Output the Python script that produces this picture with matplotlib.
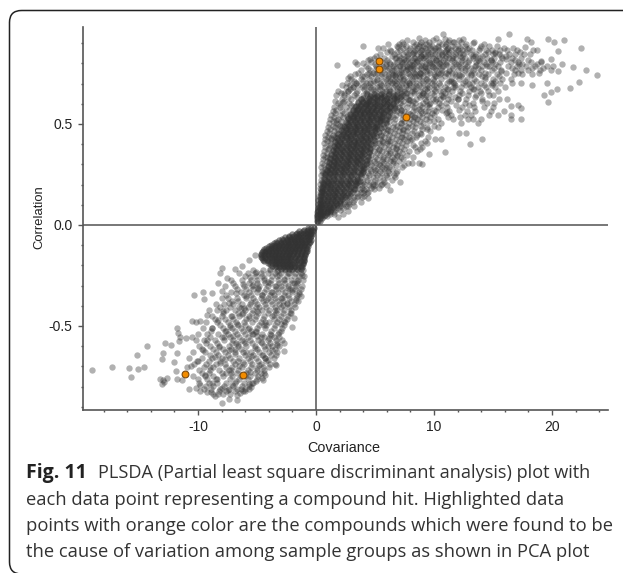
import matplotlib
matplotlib.use("Agg")
import matplotlib.pyplot as plt
from matplotlib.patches import FancyBboxPatch

# values: sparse points one by one, dense parts row by row
loose_x = [4.0, 1.75, 3.3, 3.95, 2.68, 5.25, 4.58, 6.33, 6.98, 7.34, 8.76, 9.24, 10.2, 10.73, 10.96, 11.6, 12.5,
           13.3, 15.4, 16.4, 17.85, 18.2, 17.7, 19.66, 20.2, 21.0, 22.5, 20.5, 18.7, 21.8, 22.9, 23.84, 22.3,
           21.55, 20.4, 19.66, 19.3, 19.9, 19.6, 20.85, 20.5, 19.9, 19.1, 18.3, 17.4, 17.4, 16.5, 17.1, 16.5,
           12.1, 12.7, 13.05, 14.04, 10.9, 9.6, 8.7, 9.0, 6.27, 7.1,
           -18.98, -17.3, -15.85, -15.1, -14.6, -15.65, -15.2, -14.3, -12.8, -12.3, -11.6, -13.0, -13.05,
           -11.75, -12.03, -13.2, -13.05, -12.9, -12.65, -12.95, -11.9, -11.75, -11.4, -10.95, -10.6, -11.75,
           -11.67, -11.5, -11.0, -10.5, -10.5, -10.2, -9.8, -10.3, -9.6, -9.46, -8.8, -9.07, -9.27, -7.94,
           -8.13, -8.33, -6.9, -7.57, -8.0, -6.3, -5.65, -5.17, -1.24, -1.86, -2.0, -2.68, -2.7, -3.47,
           -4.4, -4.46, -5.68, -6.72, -7.37, -8.0, -8.6, -6.44, -9.2, -10.8, -10.2]
loose_y = [.888, .794, .805, .8, .729, .875, .822, .863, .883, .896, .926, .916, .927, .947, .919, .908, .919,
           .899, .919, .944, .919, .904, .883, .922, .908, .916, .878, .863, .866, .784, .766, .741, .71,
           .68, .675, .607, .644, .66, .705, .799, .761, .822, .813, .693, .581, .526, .523, .594, .59,
           .457, .457, .399, .427, .363, .351, .307, .302, .173, .215,
           -.718, -.701, -.71, -.715, -.705, -.754, -.645, -.597, -.584, -.596, -.573, -.632, -.665,
           -.635, -.677, -.764, -.789, -.776, -.759, -.767, -.721, -.761, -.767, -.701, -.698, -.511,
           -.536, -.556, -.561, -.556, -.474, -.482, -.477, -.345, -.332, -.368, -.335, -.42, -.446, -.211,
           -.239, -.289, -.219, -.264, -.325, -.203, -.173, -.149, -.353, -.459, -.503, -.586, -.622, -.69,
           -.734, -.767, -.812, -.868, -.863, -.88, -.847, -.832, -.828, -.814, -.808]

ridge_x = [4.7, 5.3, 5.9, 6.4, 6.1, 6.9, 7.4, 6.7, 7.2, 7.9, 8.3, 7.7, 8.1, 8.8, 9.2, 8.6, 9.1, 9.7, 10.2, 9.5,
           10.1, 10.7, 11.1, 9.0, 8.2, 7.5, 7.0, 6.4, 5.8, 5.2, 4.6, 4.1, 5.6, 6.6, 7.1, 7.6, 8.2, 8.7, 9.3, 9.9,
           10.4, 11.0, 11.5, 12.2, 12.8, 13.3, 11.9, 10.9, 10.3, 9.6, 8.9, 8.4, 7.8, 7.3, 6.8, 6.3, 5.7, 5.1,
           4.5, 3.9, 3.4, 2.9, 2.4, 6.2, 7.6, 8.5, 9.4, 10.6, 11.4, 12.6, 13.8, 14.5, 15.2, 13.1, 12.1, 11.2,
           10.0, 9.0, 8.0, 7.1, 6.0, 5.0, 4.2, 3.2, 6.5, 7.7, 8.9, 10.1, 11.3, 12.4, 13.6, 14.8, 16.1, 17.2,
           15.7, 14.3, 13.0, 11.8, 10.5, 9.4, 8.3, 7.2, 5.5, 4.4, 3.6, 2.6, 1.9, 1.5, 2.2, 3.0, 3.8, 6.7, 7.9,
           9.1, 10.2, 11.6, 5.9, 6.5, 7.2, 8.0, 8.7, 9.6, 10.8, 12.0, 13.4, 15.0, 4.9, 5.4, 5.0, 5.5, 6.1, 6.8,
           7.4, 6.3, 5.7, 6.9, 7.6, 8.4, 9.2, 4.6, 5.3, 5.9, 6.5, 7.3, 8.0, 8.9, 10.0, 11.1, .55, .72, .9, 1.1,
           1.3, 1.45, 1.7, 2.0, 2.3, 2.7, 3.1, 4.6, 5.0, 5.3, 5.7, 6.1, 5.5, 6.4, 6.8, 7.3, 4.4, 4.8, 3.8, 4.1,
           3.2, 2.7, 2.3, 1.9]
ridge_y = [.672, .688, .661, .703, .728, .679, .716, .742, .758, .701, .737, .771, .793, .752, .783, .812, .829,
           .801, .818, .846, .861, .839, .873, .868, .851, .822, .789, .768, .751, .719, .702, .688, .632, .713,
           .733, .694, .776, .738, .764, .782, .803, .792, .827, .851, .873, .834, .796, .855, .882, .891, .837,
           .827, .848, .806, .826, .798, .781, .773, .751, .739, .702, .694, .651, .664, .652, .687, .721, .752,
           .711, .776, .812, .789, .851, .742, .742, .672, .693, .641, .618, .633, .601, .631, .598, .589, .742,
           .784, .791, .738, .762, .833, .792, .818, .824, .797, .762, .731, .698, .684, .662, .679, .662, .571,
           .587, .557, .573, .541, .498, .436, .489, .538, .622, .591, .618, .653, .624, .709, .509, .534, .507,
           .548, .572, .601, .637, .622, .671, .703, .482, .528, .407, .441, .418, .383, .471, .356, .329, .341,
           .491, .536, .562, .371, .301, .282, .319, .437, .421, .452, .513, .561, .171, .261, .334, .382, .431,
           .491, .522, .583, .611, .661, .683, .312, .271, .371, .412, .471, .521, .562, .623, .661, .132, .193,
           .112, .171, .093, .071, .056, .038]

low_scatter_x = [-5.1, -4.4, -3.9, -3.1, -2.3, -1.6, -6.2, -5.6, -4.9, -4.1, -3.4, -2.7, -2.0, -1.4, -6.8, -5.9,
                 -5.3, -4.6, -3.7, -3.0, -2.5, -1.7, -7.4, -6.4, -5.5, -4.8, -4.2, -3.5, -2.8, -2.1, -7.9, -7.1,
                 -6.3, -5.7, -5.0, -4.3, -3.6, -3.0, -8.3, -7.3, -6.7, -5.8, -5.1, -4.4, -3.8, -3.1, -8.8, -7.8,
                 -7.0, -6.1, -5.4, -4.7, -4.0, -3.3, -9.2, -8.2, -7.4, -6.6, -5.9, -5.2, -4.5, -3.7, -9.6, -8.6,
                 -7.7, -6.9, -6.2, -5.5, -4.8, -4.1, -10.1, -9.0, -8.1, -7.2, -6.5, -5.6, -5.0, -4.3, -9.4, -8.4,
                 -7.6, -6.8, -6.0, -5.3, -4.6, -9.8, -8.8, -8.0, -7.1, -6.4, -5.7, -5.1, -8.9, -8.3, -7.5, -6.7,
                 -6.0, -5.5, -3.3, -2.4, -1.9, -1.2, -5.0, -4.1, -2.7, -6.1, -7.6, -6.9, -4.3, -3.4]
low_scatter_y = [-.231, -.262, -.218, -.247, -.238, -.277, -.292, -.258, -.314, -.283, -.301, -.267, -.322, -.341,
                 -.338, -.353, -.296, -.347, -.332, -.361, -.388, -.373, -.384, -.412, -.379, -.408, -.369, -.421,
                 -.394, -.438, -.427, -.451, -.441, -.463, -.427, -.478, -.446, -.492, -.471, -.503, -.488, -.517,
                 -.529, -.497, -.543, -.531, -.512, -.556, -.548, -.572, -.538, -.581, -.562, -.594, -.567, -.603,
                 -.618, -.587, -.631, -.608, -.642, -.621, -.619, -.652, -.664, -.638, -.677, -.651, -.693, -.668,
                 -.671, -.704, -.681, -.717, -.696, -.728, -.709, -.741, -.741, -.762, -.733, -.771, -.748, -.782,
                 -.756, -.793, -.784, -.806, -.792, -.812, -.787, -.771, -.826, -.838, -.817, -.844, -.823, -.801,
                 -.228, -.311, -.289, -.248, -.551, -.601, -.477, -.412, -.523, -.612, -.659, -.694]

upper_levels = [.905, .885, .865, .845, .825, .805, .785, .765, .745, .725, .705, .685, .665, .645, .625, .605,
                .585, .565, .545, .525, .505, .485, .465, .445, .425, .405, .385, .365, .345, .325, .305, .285,
                .265, .245, .225, .205, .185, .165, .145, .125, .105, .085, .065, .045]
upper_rows = [
    [7.3, 8.2, 8.9, 9.6, 10.4, 11.2, 11.7, 12.3, 13.4],
    [6.9, 7.6, 8.3, 8.7, 9.1, 9.8, 10.3, 10.9, 11.5, 12.0, 12.6, 14.0, 14.7, 15.3],
    [6.3, 7.1, 7.9, 8.4, 8.9, 9.4, 9.9, 10.4, 11.0, 11.4, 12.0, 12.4, 13.2, 13.8, 14.4, 14.9, 15.6, 16.2, 17.0, 18.4],
    [5.4, 6.6, 7.4, 8.1, 8.6, 9.1, 9.7, 10.1, 10.7, 11.2, 11.8, 12.5, 13.1, 13.6, 14.3, 15.0, 15.5, 16.4, 16.9, 17.6, 18.1],
    [4.9, 5.8, 6.7, 7.2, 7.8, 8.3, 8.8, 9.3, 9.9, 10.4, 10.9, 11.3, 11.9, 12.6, 13.3, 13.9, 14.5, 15.1, 15.8, 16.6, 17.4],
    [4.7, 5.6, 6.2, 6.9, 7.5, 8.0, 8.5, 9.0, 9.6, 10.0, 10.6, 11.1, 11.7, 12.3, 12.9, 13.6, 14.2, 14.9, 15.6, 16.5, 17.1, 18.2, 19.1],
    [4.2, 5.1, 5.9, 6.5, 7.1, 7.7, 8.2, 8.7, 9.2, 9.8, 10.3, 10.8, 11.5, 12.1, 12.8, 13.5, 14.1, 14.7, 15.4, 16.3, 17.0, 17.8, 18.6, 19.6, 20.1],
    [3.8, 4.6, 5.4, 6.0, 6.6, 7.2, 7.6, 8.1, 8.6, 9.1, 9.6, 10.2, 10.7, 11.3, 12.0, 12.6, 13.3, 14.0, 14.9, 15.7, 16.9, 17.4, 18.0, 19.0, 19.9],
    [3.3, 4.3, 5.0, 5.6, 6.2, 6.8, 7.3, 7.9, 8.4, 8.9, 9.4, 10.0, 10.5, 11.2, 11.8, 12.4, 13.1, 13.8, 14.6, 15.3, 16.8, 17.5, 18.3],
    [3.0, 3.8, 4.5, 5.2, 5.9, 6.4, 7.0, 7.5, 8.1, 8.7, 9.3, 9.9, 10.6, 11.4, 12.1, 12.8, 13.4, 14.3, 15.0, 15.8, 16.5],
    [2.6, 3.4, 4.2, 4.8, 5.4, 6.1, 6.8, 7.3, 7.9, 8.5, 9.1, 9.8, 10.4, 11.1, 11.7, 12.5, 13.2, 14.0, 14.8, 15.6, 16.6, 17.4],
    [2.5, 3.1, 3.9, 4.6, 5.2, 5.8, 6.5, 7.0, 7.6, 8.2, 8.9, 9.6, 10.2, 10.9, 11.6, 12.3, 13.1, 13.7, 14.4, 15.2, 16.0],
    [1.9, 2.7, 3.5, 4.3, 5.0, 5.6, 6.3, 6.9, 7.5, 8.1, 8.8, 9.4, 10.1, 10.8, 11.5, 12.2, 13.0, 13.9, 14.6, 15.4],
    [1.7, 2.4, 3.2, 4.0, 4.7, 5.4, 6.1, 6.7, 7.4, 8.0, 8.7, 9.3, 10.0, 10.6, 11.3, 12.1, 12.9, 13.6, 14.7, 15.0],
    [2.2, 3.0, 3.8, 4.5, 5.2, 5.9, 6.6, 7.2, 7.8, 8.5, 9.2, 9.9, 10.5, 11.2, 12.0, 12.7, 14.1, 15.5, 16.2],
    [1.9, 2.8, 3.6, 4.3, 5.0, 5.8, 6.5, 7.1, 7.8, 8.4, 9.1, 9.7, 10.4, 11.0, 12.6, 13.3, 14.5, 15.1],
    [1.5, 2.5, 3.3, 4.1, 4.8, 5.6, 6.3, 7.0, 7.7, 8.3, 9.0, 9.6, 10.3, 11.1, 12.4, 13.4, 14.2, 15.0],
    [1.4, 2.2, 3.1, 3.9, 4.7, 5.5, 6.2, 6.9, 7.5, 8.2, 8.9, 9.5, 10.2, 11.3, 12.8, 13.5, 14.8, 15.9],
    [1.3, 2.0, 2.9, 3.7, 4.5, 5.3, 6.1, 6.8, 7.4, 8.1, 8.7, 9.4, 10.0, 11.4, 12.6, 13.1, 14.7, 15.4, 16.5],
    [1.2, 1.9, 2.7, 3.5, 4.4, 5.2, 6.0, 6.7, 7.3, 8.0, 8.6, 9.3, 10.3, 11.6, 12.9, 13.3, 14.0],
    [1.1, 1.7, 2.6, 3.4, 4.2, 5.1, 5.9, 6.6, 7.2, 7.9, 8.5, 9.1, 10.6, 12.3, 13.7],
    [1.0, 1.6, 2.4, 3.3, 4.1, 5.0, 5.8, 6.5, 7.1, 7.8, 8.4, 9.4, 10.3],
    [.9, 1.5, 2.3, 3.1, 4.0, 4.9, 5.7, 6.3, 7.0, 7.7, 8.3, 9.7],
    [.8, 1.4, 2.2, 3.0, 3.9, 4.8, 5.5, 6.2, 6.9, 7.6, 8.6],
    [.75, 1.3, 2.1, 2.9, 3.8, 4.6, 5.4, 6.1, 6.8, 7.5, 8.1, 10.1, 10.6],
    [.7, 1.2, 2.0, 2.8, 3.6, 4.5, 5.3, 6.0, 6.6, 7.3, 8.9, 9.4],
    [.8, 1.6, 2.5, 3.4, 4.3, 5.1, 5.8, 6.5, 7.2, 8.4, 9.0],
    [.7, 1.4, 2.3, 3.2, 4.1, 4.9, 5.6, 6.3, 7.0, 7.9, 8.6],
    [.6, 1.3, 2.2, 3.0, 3.9, 4.7, 5.4, 6.1, 6.9, 7.7],
    [.6, 1.2, 2.0, 2.9, 3.7, 4.5, 5.2, 6.0, 6.6, 7.4],
    [.5, 1.1, 1.9, 2.7, 3.6, 4.3, 5.1, 5.8, 6.5, 7.8, 8.1],
    [.45, 1.0, 1.7, 2.5, 3.4, 4.2, 4.9, 5.6, 6.2, 7.3],
    [.5, .9, 1.6, 2.4, 3.2, 4.0, 4.7, 5.4, 6.1, 6.9],
    [.4, .8, 1.5, 2.2, 3.0, 3.8, 4.5, 5.2, 5.9, 6.6],
    [.4, .75, 1.4, 2.1, 2.9, 3.6, 4.3, 5.0, 5.7, 6.4],
    [.35, .7, 1.3, 2.0, 2.7, 3.4, 4.1, 4.8, 5.6],
    [.3, .6, 1.2, 1.8, 2.5, 3.2, 3.9, 4.7, 5.3],
    [.3, .55, 1.1, 1.7, 2.4, 3.1, 3.8, 4.4],
    [.25, .5, 1.0, 1.6, 2.2, 2.9, 3.6, 4.1],
    [.2, .45, .9, 1.4, 2.0, 2.6, 3.2],
    [.2, .4, .8, 1.3, 1.8, 2.3, 2.8],
    [.15, .35, .7, 1.1, 1.5, 1.9, 2.3],
    [.1, .3, .6, .9, 1.2, 1.5],
    [.1, .25, .45, .7, .9],
]

upper2_levels = [.918, .896, .876, .858, .838, .817, .797, .776, .754, .735, .714, .693, .672, .652, .631, .612,
                 .593, .571, .552, .532, .513, .492, .474, .455, .436, .416, .396, .377, .356, .337, .316, .296,
                 .276, .256, .236, .214, .196, .176, .156, .136, .116, .096, .076, .056]
upper2_rows = [
    [7.7, 9.9, 11.3, 12.1],
    [6.1, 7.0, 8.5, 8.8, 9.3, 10.7, 11.0, 12.7, 14.2],
    [5.7, 7.4, 8.0, 8.6, 9.2, 9.7, 10.1, 11.2, 11.8, 12.2, 13.0, 13.9, 15.9, 16.7],
    [6.0, 6.9, 7.6, 8.3, 8.8, 9.5, 10.6, 11.3, 11.9, 12.7, 14.6, 15.2, 17.3],
    [5.1, 6.4, 7.0, 7.7, 8.9, 9.2, 9.8, 10.3, 11.0, 11.6, 12.2, 13.5, 14.1, 15.7, 16.1],
    [4.4, 5.3, 6.0, 7.0, 7.6, 8.1, 8.6, 9.5, 10.2, 10.8, 11.5, 12.4, 13.0, 13.7, 14.8, 16.9, 18.0],
    [3.5, 5.0, 5.9, 6.6, 7.3, 7.9, 8.3, 9.3, 9.8, 10.5, 11.0, 12.0, 12.6, 14.4, 15.2, 17.5, 18.7],
    [4.4, 5.5, 6.2, 6.8, 7.4, 8.0, 8.9, 9.4, 10.1, 10.6, 11.6, 12.3, 13.1, 13.7, 15.1, 16.6, 18.3, 19.2],
    [3.6, 4.8, 5.2, 6.4, 7.0, 7.8, 8.3, 8.8, 9.7, 10.3, 11.0, 11.5, 12.9, 13.4, 14.3, 16.1, 17.1, 18.9],
    [2.9, 4.1, 4.7, 5.5, 6.1, 6.7, 7.4, 8.0, 8.5, 9.1, 10.2, 10.9, 11.9, 12.3, 14.1, 15.5],
    [3.2, 4.0, 4.9, 5.7, 6.3, 6.9, 7.7, 8.2, 9.0, 9.5, 10.0, 11.3, 12.6, 13.6, 15.2],
    [2.2, 3.6, 4.4, 5.5, 6.0, 6.7, 7.2, 8.0, 8.7, 9.4, 10.5, 11.8, 12.7, 14.2, 14.9],
    [2.9, 4.1, 4.8, 5.4, 6.2, 7.1, 7.8, 8.4, 9.2, 10.0, 11.1, 13.3],
    [2.1, 3.4, 4.2, 5.1, 5.8, 6.5, 7.2, 7.7, 8.3, 9.1, 9.8, 10.9, 12.4, 14.0],
    [2.7, 3.5, 4.8, 5.5, 6.2, 6.9, 7.6, 8.8, 9.5, 10.8, 11.8, 13.5],
    [1.6, 2.4, 3.9, 4.6, 5.4, 6.0, 6.8, 7.4, 8.2, 9.3, 10.1, 11.4, 14.1],
    [2.0, 3.0, 3.7, 4.4, 5.2, 6.6, 7.3, 8.1, 8.8, 9.4, 10.6, 11.9, 13.0],
    [1.7, 2.8, 3.5, 4.3, 5.1, 5.9, 6.6, 7.2, 8.5, 10.0, 10.7, 12.1],
    [1.6, 2.4, 3.4, 4.1, 4.9, 5.7, 7.1, 7.8, 9.0, 9.8, 11.0],
    [1.5, 2.3, 3.2, 4.0, 4.8, 5.6, 6.3, 7.6, 8.3, 9.0, 9.7, 11.2, 12.2],
    [1.4, 2.1, 3.0, 3.8, 4.6, 5.4, 6.2, 7.5, 8.2, 8.8, 9.6],
    [2.0, 2.8, 3.6, 4.5, 5.3, 6.1, 6.9, 8.1, 8.9, 10.0],
    [1.2, 1.9, 2.7, 3.5, 4.3, 5.2, 6.0, 6.7, 7.4, 9.0, 9.4],
    [1.1, 1.8, 2.6, 3.4, 4.4, 5.1, 5.9, 6.6, 7.3, 8.1, 8.8],
    [1.0, 1.7, 2.5, 4.2, 4.9, 5.8, 6.4, 7.2, 7.9, 8.5, 9.5],
    [.9, 1.6, 3.3, 4.1, 5.0, 5.6, 6.3, 7.0, 7.7, 9.2],
    [1.2, 1.9, 3.1, 4.0, 4.8, 5.5, 6.2, 6.9, 7.6, 8.2],
    [1.0, 2.0, 3.0, 3.8, 4.6, 5.3, 6.1, 6.8, 7.5, 8.8],
    [.9, 1.7, 2.8, 3.7, 4.5, 5.2, 5.9, 6.7, 7.3],
    [.8, 1.6, 2.7, 3.5, 4.4, 5.0, 5.7, 6.4, 7.2, 8.2],
    [.9, 1.5, 2.5, 3.4, 4.2, 4.9, 5.6, 6.3, 7.0],
    [.7, 1.4, 2.3, 4.1, 4.7, 5.4, 6.0, 6.8, 7.5],
    [.8, 1.3, 2.1, 4.0, 4.6, 5.2, 5.8, 6.4],
    [.6, 1.2, 3.9, 4.4, 5.0, 5.6, 6.2, 6.8],
    [.7, 1.1, 3.8, 4.2, 4.8, 5.4, 6.0, 6.7],
    [.5, 1.0, 3.6, 4.0, 4.6, 5.2, 5.8],
    [.6, .9, 3.5, 3.9, 4.5, 5.0, 5.5, 6.0],
    [.45, 3.3, 3.7, 4.2, 4.9],
    [.4, 3.0, 3.5, 4.0, 4.3],
    [.35, 2.7, 3.1, 3.5, 3.9],
    [.3, 2.4, 2.8, 3.1],
    [.25, 2.0, 2.5, 2.7],
    [.2, 1.6, 2.0],
    [.15, 1.2, 1.5],
]

upper_core_levels = [.02, .035, .05, .07, .09, .11, .13, .15, .17, .19, .21, .23, .25, .27, .29, .31, .33, .35,
                     .37, .39, .41, .43, .45, .47, .49, .51, .53, .55, .57, .59, .61, .63, .65]
upper_core_rows = [
    [.05, .2, .35], [.1, .3, .5], [.1, .3, .55, .8], [.2, .45, .7, 1.0, 1.2], [.25, .55, .85, 1.15, 1.45],
    [.3, .6, .95, 1.3, 1.7, 2.0], [.35, .7, 1.05, 1.4, 1.8, 2.2], [.45, .8, 1.15, 1.5, 1.9, 2.3, 2.6],
    [.5, .85, 1.25, 1.6, 2.0, 2.4, 2.9], [.55, .95, 1.3, 1.7, 2.1, 2.5, 3.0],
    [.6, 1.0, 1.4, 1.8, 2.2, 2.6, 3.0, 3.4], [.7, 1.1, 1.5, 1.9, 2.3, 2.7, 3.1, 3.5],
    [.8, 1.2, 1.6, 2.0, 2.4, 2.8, 3.2, 3.7], [.9, 1.3, 1.7, 2.1, 2.5, 2.9, 3.3, 3.8],
    [1.0, 1.4, 1.8, 2.2, 2.6, 3.0, 3.4, 3.9], [1.1, 1.5, 1.9, 2.3, 2.7, 3.1, 3.5, 3.9],
    [1.2, 1.6, 2.0, 2.4, 2.8, 3.2, 3.6, 4.0], [1.3, 1.7, 2.1, 2.5, 2.9, 3.3, 3.7, 4.1],
    [1.4, 1.8, 2.2, 2.6, 3.0, 3.4, 3.8, 4.2], [1.5, 1.9, 2.3, 2.7, 3.1, 3.5, 3.9, 4.3],
    [1.6, 2.0, 2.4, 2.8, 3.2, 3.6, 4.0, 4.4], [1.8, 2.2, 2.6, 3.0, 3.4, 3.8, 4.2, 4.6],
    [1.9, 2.3, 2.7, 3.1, 3.5, 3.9, 4.3, 4.8], [2.1, 2.5, 2.9, 3.3, 3.7, 4.1, 4.5, 5.0],
    [2.4, 2.8, 3.2, 3.6, 4.0, 4.4, 4.8, 5.2], [2.5, 2.9, 3.3, 3.7, 4.1, 4.5, 4.9, 5.4],
    [2.7, 3.1, 3.5, 3.9, 4.3, 4.7, 5.1, 5.6], [2.9, 3.3, 3.7, 4.1, 4.5, 4.9, 5.3, 5.8],
    [3.1, 3.5, 3.9, 4.3, 4.7, 5.1, 5.5, 6.0], [3.4, 3.8, 4.2, 4.6, 5.0, 5.4, 5.9, 6.3],
    [3.6, 4.0, 4.4, 4.8, 5.2, 5.7, 6.2], [4.0, 4.5, 5.0, 5.5, 6.0, 6.6], [4.3, 4.9, 5.5, 6.2, 6.9],
]

upper_core2_levels = [.06, .08, .10, .12, .14, .16, .18, .20, .22, .24, .26, .28, .30, .32, .34, .36, .38, .40,
                      .42, .44, .46, .48, .50, .52, .54, .56, .58, .60, .62, .64]
upper_core2_rows = [
    [.3, .6, .95], [.35, .65, 1.0, 1.3], [.45, .75, 1.1, 1.5, 1.8], [.5, .9, 1.25, 1.6, 2.0],
    [.6, 1.0, 1.35, 1.7, 2.1, 2.45], [.65, 1.05, 1.4, 1.8, 2.2, 2.7], [.75, 1.15, 1.5, 1.9, 2.3, 2.8, 3.2],
    [.8, 1.2, 1.6, 2.0, 2.4, 2.8, 3.3], [.9, 1.3, 1.7, 2.1, 2.5, 2.9, 3.3, 3.7], [1.0, 1.4, 1.8, 2.2, 2.6, 3.0, 3.5],
    [1.1, 1.5, 1.9, 2.3, 2.7, 3.1, 3.6, 4.0], [1.2, 1.6, 2.0, 2.4, 2.8, 3.2, 3.7, 4.1],
    [1.3, 1.7, 2.1, 2.5, 2.9, 3.3, 3.7, 4.2], [1.4, 1.8, 2.2, 2.6, 3.0, 3.4, 3.8, 4.3],
    [1.5, 1.9, 2.3, 2.7, 3.1, 3.5, 3.9, 4.4], [1.6, 2.0, 2.4, 2.8, 3.2, 3.6, 4.0, 4.5],
    [1.7, 2.1, 2.5, 2.9, 3.3, 3.7, 4.1, 4.6], [1.8, 2.2, 2.6, 3.0, 3.4, 3.8, 4.2, 4.7],
    [1.9, 2.4, 2.8, 3.2, 3.6, 4.0, 4.4, 4.9], [2.1, 2.5, 2.9, 3.3, 3.7, 4.1, 4.6, 5.1],
    [2.3, 2.7, 3.1, 3.5, 3.9, 4.3, 4.7, 5.3], [2.5, 2.9, 3.3, 3.7, 4.1, 4.5, 5.0, 5.5],
    [2.7, 3.1, 3.5, 3.9, 4.3, 4.7, 5.2, 5.7], [2.9, 3.3, 3.7, 4.1, 4.5, 4.9, 5.4, 5.9],
    [3.1, 3.5, 3.9, 4.3, 4.7, 5.1, 5.6, 6.1], [3.3, 3.7, 4.1, 4.5, 4.9, 5.3, 5.8, 6.3],
    [3.6, 4.0, 4.4, 4.8, 5.2, 5.7, 6.2, 6.7], [3.8, 4.2, 4.6, 5.0, 5.5, 6.0, 6.5],
    [4.2, 4.7, 5.2, 5.8, 6.3, 6.9], [4.6, 5.2, 5.8, 6.5, 7.2],
]

lower_levels = [-.24, -.27, -.30, -.33, -.36, -.39, -.42, -.45, -.48, -.51, -.54, -.57, -.60, -.63, -.66, -.69,
                -.72, -.75, -.78, -.81, -.835]
lower_rows = [
    [-6.5, -5.8, -5.2, -4.7, -4.1, -3.5, -3.0, -2.4, -1.8, -1.3],
    [-7.2, -6.3, -5.5, -5.0, -4.4, -3.8, -3.2, -2.7, -2.1, -1.5, -1.1],
    [-7.7, -6.9, -6.1, -5.4, -4.8, -4.1, -3.5, -3.0, -2.4, -1.7, -1.2],
    [-7.2, -6.4, -5.7, -5.0, -4.4, -3.8, -3.2, -2.6, -2.0, -1.4],
    [-8.0, -7.5, -6.7, -5.9, -5.3, -4.7, -4.1, -3.5, -2.9, -2.3, -1.7],
    [-8.5, -7.8, -7.0, -6.3, -5.6, -5.0, -4.3, -3.7, -3.1, -2.5, -1.9],
    [-8.4, -7.6, -6.9, -6.0, -5.3, -4.6, -4.0, -3.3, -2.7, -2.1],
    [-8.8, -8.0, -7.2, -6.5, -5.7, -5.1, -4.4, -3.7, -3.0, -2.4],
    [-9.3, -8.4, -7.5, -6.8, -6.1, -5.4, -4.7, -4.0, -3.3, -2.6],
    [-9.6, -8.8, -7.9, -7.1, -6.4, -5.7, -5.0, -4.3, -3.6, -2.9],
    [-10.0, -9.2, -8.3, -7.5, -6.7, -6.0, -5.3, -4.6, -3.9, -3.2],
    [-10.2, -9.5, -8.6, -7.8, -7.0, -6.3, -5.6, -4.9, -4.1, -3.4, -2.9],
    [-9.9, -9.0, -8.2, -7.4, -6.6, -5.9, -5.2, -4.4, -3.7, -3.1],
    [-10.4, -9.4, -8.5, -7.7, -6.9, -6.2, -5.5, -4.8, -4.0, -3.3],
    [-10.8, -9.7, -8.8, -8.0, -7.3, -6.5, -5.8, -5.1, -4.3, -3.6],
    [-10.3, -9.3, -8.5, -7.7, -6.9, -6.1, -5.4, -4.7, -3.9],
    [-9.9, -9.0, -8.2, -7.4, -6.6, -5.8, -5.0, -4.4],
    [-10.4, -9.4, -8.7, -7.9, -7.1, -6.4, -5.6, -4.9],
    [-9.9, -9.1, -8.4, -7.6, -6.9, -6.1, -5.4],
    [-9.5, -8.9, -8.1, -7.4, -6.7, -6.0],
    [-8.7, -7.9, -7.3],
]

lower2_levels = [-.225, -.255, -.285, -.315, -.345, -.375, -.405, -.435, -.465, -.495, -.525, -.555, -.585, -.615,
                 -.645, -.675, -.705, -.735, -.765, -.795, -.82]
lower2_rows = [
    [-5.3, -4.5, -3.9, -3.2, -2.6, -2.0, -1.5, -1.1],
    [-6.0, -5.1, -4.6, -3.7, -3.3, -2.5, -1.9, -1.4, -1.0],
    [-7.0, -5.7, -5.0, -4.3, -3.9, -3.1, -2.6, -2.0, -1.6],
    [-6.7, -5.9, -5.3, -4.9, -4.2, -3.4, -2.9, -2.2, -1.8, -1.3],
    [-7.6, -6.1, -5.5, -4.6, -3.9, -3.6, -2.7, -2.4, -1.6],
    [-7.1, -6.6, -5.2, -4.5, -3.8, -3.3, -2.8, -2.1, -1.5],
    [-8.1, -7.3, -6.5, -5.8, -5.1, -4.2, -3.5, -3.0, -2.3, -1.8],
    [-7.9, -6.6, -6.2, -5.4, -4.9, -4.1, -3.4, -2.8, -2.2],
    [-8.6, -7.7, -7.0, -5.9, -5.2, -4.5, -3.6, -3.1, -2.5],
    [-8.1, -7.3, -6.6, -6.0, -4.8, -4.2, -3.5, -2.7],
    [-8.9, -7.7, -6.9, -6.2, -5.5, -5.1, -3.8, -3.0],
    [-9.0, -8.0, -7.3, -6.5, -5.8, -4.7, -4.4, -3.6, -3.1],
    [-9.3, -8.4, -7.1, -6.8, -6.0, -5.4, -4.6, -3.9, -3.3],
    [-9.7, -8.7, -7.9, -7.2, -6.4, -5.0, -4.3, -3.5],
    [-9.0, -8.3, -7.5, -6.0, -5.3, -4.6, -3.8, -3.4],
    [-10.0, -9.1, -8.1, -7.0, -6.6, -5.6, -4.9, -4.2],
    [-9.5, -8.7, -7.6, -7.1, -6.3, -5.5, -4.5, -4.0],
    [-9.7, -9.1, -8.0, -7.2, -6.7, -5.9, -5.2, -4.7],
    [-10.0, -9.2, -8.5, -7.3, -6.5, -5.8, -5.0],
    [-9.3, -8.7, -7.8, -7.0, -6.3, -5.7],
    [-9.8, -8.2, -7.6, -6.9, -6.2],
]

lower_core_levels = [-.015, -.03, -.045, -.06, -.075, -.09, -.105, -.12, -.135, -.15, -.165, -.18, -.195, -.21]
lower_core_rows = [
    [-.7, -.4, -.15],
    [-1.4, -1.1, -.8, -.5, -.25],
    [-2.0, -1.7, -1.4, -1.1, -.8, -.55, -.3],
    [-2.6, -2.3, -2.0, -1.7, -1.4, -1.1, -.8, -.5],
    [-3.1, -2.8, -2.5, -2.2, -1.9, -1.6, -1.3, -1.0, -.7, -.45],
    [-3.6, -3.3, -3.0, -2.7, -2.4, -2.1, -1.8, -1.5, -1.2, -.9, -.6],
    [-4.0, -3.7, -3.4, -3.1, -2.8, -2.5, -2.2, -1.9, -1.6, -1.3, -1.0, -.7],
    [-4.4, -4.1, -3.8, -3.5, -3.2, -2.9, -2.6, -2.3, -2.0, -1.7, -1.4, -1.1, -.75],
    [-4.6, -4.3, -4.0, -3.7, -3.4, -3.1, -2.8, -2.5, -2.2, -1.9, -1.6, -1.2, -.85],
    [-4.7, -4.4, -4.1, -3.8, -3.5, -3.2, -2.9, -2.6, -2.3, -2.0, -1.6, -1.3, -.95],
    [-4.6, -4.3, -4.0, -3.7, -3.4, -3.1, -2.8, -2.5, -2.2, -1.8, -1.4, -1.0],
    [-4.4, -4.0, -3.6, -3.3, -3.0, -2.7, -2.4, -2.1, -1.7, -1.3, -1.0],
    [-3.9, -3.5, -3.2, -2.9, -2.6, -2.3, -2.0, -1.6, -1.1],
    [-3.5, -3.1, -2.8, -2.5, -2.2, -1.9, -1.5, -1.2],
]

lower_core2_levels = [-.0225, -.0375, -.0525, -.0675, -.0825, -.0975, -.1125, -.1275, -.1425, -.1575, -.1725,
                      -.1875, -.2025, -.22]
lower_core2_rows = [
    [-1.0, -.65, -.35],
    [-1.6, -1.25, -.95, -.65, -.4],
    [-2.3, -1.85, -1.55, -1.25, -.95, -.65, -.4],
    [-2.85, -2.45, -2.15, -1.85, -1.55, -1.25, -.95, -.6],
    [-3.35, -2.95, -2.65, -2.35, -2.05, -1.75, -1.45, -1.15, -.85, -.55],
    [-3.8, -3.45, -3.15, -2.85, -2.55, -2.25, -1.95, -1.65, -1.35, -1.05, -.75],
    [-4.2, -3.85, -3.55, -3.25, -2.95, -2.65, -2.35, -2.05, -1.75, -1.45, -1.15, -.85],
    [-4.5, -4.25, -3.95, -3.65, -3.35, -3.05, -2.75, -2.45, -2.15, -1.85, -1.5, -1.15, -.8],
    [-4.65, -4.35, -4.05, -3.75, -3.45, -3.15, -2.85, -2.55, -2.25, -1.95, -1.6, -1.25, -.9],
    [-4.65, -4.3, -3.9, -3.6, -3.3, -3.0, -2.7, -2.4, -2.1, -1.75, -1.35, -1.0],
    [-4.5, -4.15, -3.75, -3.45, -3.15, -2.85, -2.55, -2.25, -1.9, -1.5, -1.05],
    [-4.1, -3.7, -3.4, -3.1, -2.8, -2.5, -2.2, -1.85, -1.45, -1.1],
    [-3.7, -3.35, -3.05, -2.75, -2.45, -2.1, -1.75, -1.3],
    [-3.0, -2.6, -2.3, -2.0, -1.6, -1.25],
]

hit_x = [5.34, 5.34, 7.66, -11.1, -6.2]
hit_y = [.813, .772, .535, -.738, -.742]

x_ticks = [-10, 0, 10, 20]
x_labels = ["-10", "0", "10", "20"]
x_minor = [-18, -16, -14, -12, -8, -6, -4, -2, 2, 4, 6, 8, 12, 14, 16, 18, 22, 24]
y_ticks = [-0.5, 0.0, 0.5]
y_labels = ["-0.5", "0.0", "0.5"]
y_minor = [-.9, -.8, -.7, -.6, -.4, -.3, -.2, -.1, .1, .2, .3, .4, .6, .7, .8, .9]

caption_lines = ["each data point representing a compound hit. Highlighted data",
                 "points with orange color are the compounds which were found to be",
                 "the cause of variation among sample groups as shown in PCA plot"]


def flatten(levels, rows):
    xs, ys = [], []
    for level, row in zip(levels, rows):
        xs += row
        ys += [level] * len(row)
    return xs, ys


W, H = 623, 573
fig = plt.figure(figsize=(W / 100, H / 100), dpi=100)
ax = fig.add_axes([83 / W, 1 - 410 / H, (608 - 83) / W, (410 - 27) / H])
ax.set_xlim(-19.75, 24.75)
ax.set_ylim(-.916, .98)

ux, uy = flatten(upper_levels, upper_rows)
u2x, u2y = flatten(upper2_levels, upper2_rows)
lx, ly = flatten(lower_levels, lower_rows)
l2x, l2y = flatten(lower2_levels, lower2_rows)
ucx, ucy = flatten(upper_core_levels, upper_core_rows)
uc2x, uc2y = flatten(upper_core2_levels, upper_core2_rows)
lcx, lcy = flatten(lower_core_levels, lower_core_rows)
lc2x, lc2y = flatten(lower_core2_levels, lower_core2_rows)

ax.axhline(0, color="#777777", lw=1.4, zorder=1)
ax.axvline(0, color="#777777", lw=1.4, zorder=1)
ax.scatter(loose_x + ridge_x + low_scatter_x + ux + u2x + lx + l2x, loose_y + ridge_y + low_scatter_y + uy + u2y + ly + l2y,
           s=21, color="#333333", alpha=.38, linewidths=0, zorder=2)
ax.scatter(ucx + lcx + uc2x + lc2x, ucy + lcy + uc2y + lc2y, s=21, color="#333333", alpha=.55, linewidths=0, zorder=2)
ax.scatter(hit_x, hit_y, s=24, color="#f28c00", edgecolors="#7a4a10", linewidths=.8, zorder=3)

for side in ["top", "right"]:
    ax.spines[side].set_visible(False)
for side in ["left", "bottom"]:
    ax.spines[side].set_color("#555555")
    ax.spines[side].set_linewidth(1.2)

ax.set_xticks(x_ticks)
ax.set_xticklabels(x_labels)
ax.set_xticks(x_minor, minor=True)
ax.set_yticks(y_ticks)
ax.set_yticklabels(y_labels)
ax.set_yticks(y_minor, minor=True)
ax.tick_params(which="major", length=3.5, width=1, color="#555555", labelsize=10, pad=4)
ax.tick_params(which="minor", length=1.5, width=1, color="#555555")
for lab in ax.get_xticklabels() + ax.get_yticklabels():
    lab.set_family("Liberation Sans")
    lab.set_color("#222222")

# overlay in pixel coordinates for the axis titles, the card border and the caption
over = fig.add_axes([0, 0, 1, 1], facecolor="none")
over.set_xlim(0, W)
over.set_ylim(H, 0)
over.axis("off")
over.text(344, 448, "Covariance", family="Liberation Sans", fontsize=10.4, color="#222222", ha="center", va="center")
over.text(39, 217, "Correlation", family="Liberation Sans", fontsize=9.4, color="#222222", ha="center", va="center",
          rotation=90)
over.add_patch(FancyBboxPatch((9.5, 10.5), 660, 563.5, boxstyle="round,pad=0,rounding_size=12", fc="none",
                              ec="#222222", lw=1.1))

over.text(26, 473, "Fig. 11", family="Open Sans", weight="bold", fontsize=14, color="#222222", va="center")
over.text(98, 473, "PLSDA (Partial least square discriminant analysis) plot with", family="Open Sans", fontsize=13.1,
          color="#333333", va="center")
for i, line in enumerate(caption_lines):
    over.text(26, 500 + i * 26.2, line, family="Open Sans", fontsize=13.2, color="#333333", va="center")

fig.savefig("out.png", dpi=100)
